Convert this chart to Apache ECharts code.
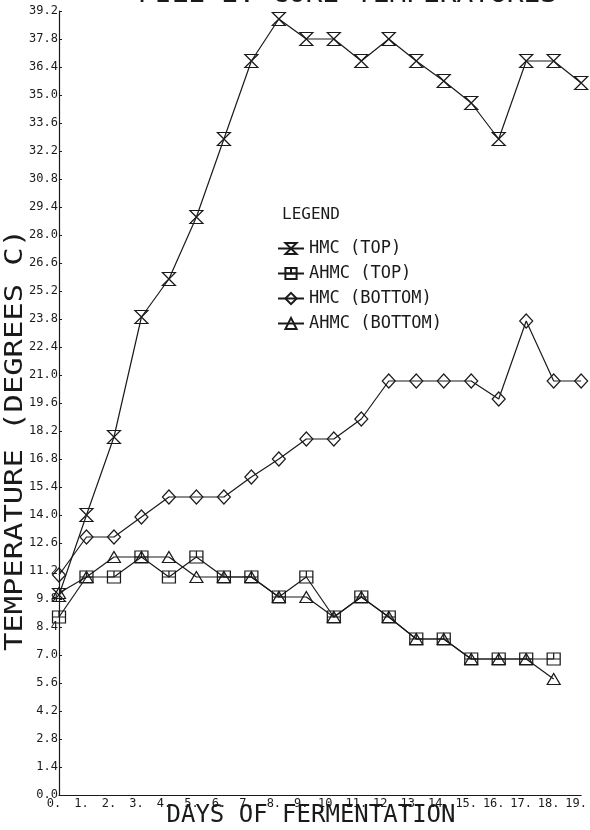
<!DOCTYPE html>
<html>
<head>
<meta charset="utf-8">
<script src="https://cdn.jsdelivr.net/npm/echarts@6/dist/echarts.min.js"></script>
<style>
html,body{margin:0;padding:0;background:#fff;}
#main{width:590px;height:830px;}
</style>
</head>
<body>
<div id="main"></div>
<script>
var days = [0,1,2,3,4,5,6,7,8,9,10,11,12,13,14,15,16,17,18,19];
var hmcTop     = [10.0,14.0,17.9,23.9,25.8,28.9,32.8,36.7,38.8,37.8,37.8,36.7,37.8,36.7,35.7,34.6,32.8,36.7,36.7,35.6];
var ahmcTop    = [8.9,10.9,10.9,11.9,10.9,11.9,10.9,10.9,9.9,10.9,8.9,9.9,8.9,7.8,7.8,6.8,6.8,6.8,6.8,null];
var hmcBottom  = [11.0,12.9,12.9,13.9,14.9,14.9,14.9,15.9,16.8,17.8,17.8,18.8,20.7,20.7,20.7,20.7,19.8,23.7,20.7,20.7];
var ahmcBottom = [10.1,10.9,11.9,11.9,11.9,10.9,10.9,10.9,9.9,9.9,8.9,9.9,8.9,7.8,7.8,6.8,6.8,6.8,5.8,null];
var seriesNames = ['HMC (TOP)','AHMC (TOP)','HMC (BOTTOM)','AHMC (BOTTOM)'];
var titleText = 'PILE 2. CORE TEMPERATURES';
var xName = 'DAYS OF FERMENTATION';
var yName = 'TEMPERATURE (DEGREES C)';

var INK = '#1a1a1a';
var FONT = '"DejaVu Sans Mono", monospace';

function mk(name, vals, symbol, size) {
  var data = [];
  for (var i = 0; i < days.length; i++) {
    if (vals[i] != null) data.push([days[i], vals[i]]);
  }
  return {
    name: name, type: 'line', data: data,
    symbol: symbol, symbolSize: size,
    lineStyle: {color: INK, width: 1.2},
    itemStyle: {color: 'rgba(255,255,255,0)', borderColor: INK, borderWidth: 1.2},
    emphasis: {disabled: true},
    silent: true
  };
}

var chart = echarts.init(document.getElementById('main'), null, {renderer: 'canvas'});
chart.setOption({
  animation: false,
  backgroundColor: '#fff',
  grid: {left: 59, right: 7, top: 11, bottom: 35, containLabel: false},
  xAxis: {
    type: 'value', min: 0, max: 19, interval: 1,
    axisLine: {lineStyle: {color: INK, width: 1.2}},
    axisTick: {show: false},
    splitLine: {show: false},
    axisLabel: {
      color: INK, fontFamily: FONT, fontSize: 12, margin: 3,
      padding: [0, 10, 0, 0],
      formatter: function (v) { return v + '.'; }
    }
  },
  yAxis: {
    type: 'value', min: 0, max: 39.2, interval: 1.4,
    axisLine: {show: true, lineStyle: {color: INK, width: 1.2}},
    axisTick: {show: true, inside: true, length: 3, lineStyle: {color: INK}},
    splitLine: {show: false},
    axisLabel: {
      color: INK, fontFamily: FONT, fontSize: 12, margin: 1,
      formatter: function (v) { return (Math.round(v * 10) / 10).toFixed(1); }
    }
  },
  legend: {
    orient: 'vertical', left: 272, top: 235,
    itemWidth: 26, itemHeight: 14, itemGap: 8,
    selectedMode: false,
    textStyle: {color: INK, fontFamily: FONT, fontSize: 17, lineHeight: 14},
    data: seriesNames
  },
  graphic: [
    {type: 'text', left: 282, top: 207, style: {text: 'LEGEND', fill: INK, font: '16px ' + FONT}},
    {type: 'text', x: 557, y: -4, scaleX: 1.16, style: {text: titleText, fill: INK, font: '24px ' + FONT, textAlign: 'right', textVerticalAlign: 'middle'}},
    {type: 'text', x: 311, y: 816, style: {text: xName, fill: INK, font: '24px ' + FONT, textAlign: 'center', textVerticalAlign: 'middle'}},
    {type: 'text', x: 16, y: 440, rotation: Math.PI / 2, scaleX: 1.27, style: {text: yName, fill: INK, font: '24px ' + FONT, textAlign: 'center', textVerticalAlign: 'middle'}}
  ],
  series: [
    mk(seriesNames[0], hmcTop, 'path://M0,0L12,0L0,11L12,11Z', [13, 13]),
    mk(seriesNames[1], ahmcTop, 'path://M0,0L10,0L10,10L0,10Z M5,0L5,5 M0,5L10,5', [13, 12]),
    mk(seriesNames[2], hmcBottom, 'diamond', [13, 14]),
    mk(seriesNames[3], ahmcBottom, 'triangle', [13, 11])
  ]
});
</script>
</body>
</html>
